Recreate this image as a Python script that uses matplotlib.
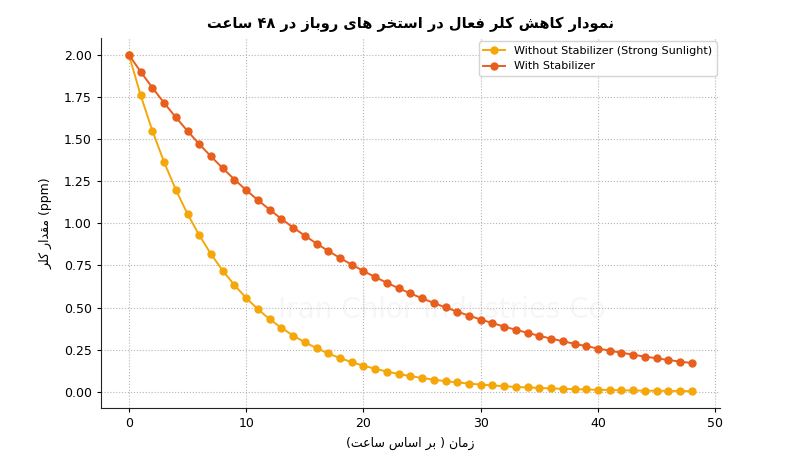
import re
import matplotlib
matplotlib.use('Agg')
import matplotlib.pyplot as plt

# ----- data -----
hours = list(range(49))
without_stab = [2.000, 1.760, 1.549, 1.363, 1.199, 1.055, 0.929, 0.817, 0.719, 0.633,
                0.557, 0.490, 0.431, 0.380, 0.334, 0.294, 0.259, 0.228, 0.200, 0.176,
                0.155, 0.137, 0.120, 0.106, 0.093, 0.082, 0.072, 0.063, 0.056, 0.049,
                0.043, 0.038, 0.033, 0.029, 0.026, 0.023, 0.020, 0.018, 0.016, 0.014,
                0.012, 0.011, 0.009, 0.008, 0.007, 0.006, 0.006, 0.005, 0.004]
with_stab = [2.000, 1.900, 1.805, 1.715, 1.629, 1.548, 1.470, 1.397, 1.327, 1.260,
             1.197, 1.138, 1.081, 1.027, 0.975, 0.927, 0.880, 0.836, 0.794, 0.755,
             0.717, 0.681, 0.647, 0.615, 0.584, 0.555, 0.527, 0.501, 0.476, 0.452,
             0.429, 0.408, 0.387, 0.368, 0.350, 0.332, 0.316, 0.300, 0.285, 0.271,
             0.257, 0.244, 0.232, 0.220, 0.209, 0.199, 0.189, 0.179, 0.171]
series_labels = ['Without Stabilizer (Strong Sunlight)', 'With Stabilizer']
title_text = 'نمودار کاهش کلر فعال در استخر های روباز در ۴۸ ساعت'
xlabel_text = 'زمان ( بر اساس ساعت)'
ylabel_text = 'مقدار کلر'

# ----- minimal Persian shaping (matplotlib has no text shaping) -----
# letter: (isolated, final, initial, medial); two entries = joins only to the right
FORMS = {
    'ا': (0xFE8D, 0xFE8E), 'آ': (0xFE81, 0xFE82),
    'د': (0xFEA9, 0xFEAA), 'ذ': (0xFEAB, 0xFEAC),
    'ر': (0xFEAD, 0xFEAE), 'ز': (0xFEAF, 0xFEB0), 'و': (0xFEED, 0xFEEE),
    'ب': (0xFE8F, 0xFE90, 0xFE91, 0xFE92), 'ت': (0xFE95, 0xFE96, 0xFE97, 0xFE98),
    'خ': (0xFEA5, 0xFEA6, 0xFEA7, 0xFEA8), 'س': (0xFEB1, 0xFEB2, 0xFEB3, 0xFEB4),
    'ش': (0xFEB5, 0xFEB6, 0xFEB7, 0xFEB8), 'ع': (0xFEC9, 0xFECA, 0xFECB, 0xFECC),
    'ف': (0xFED1, 0xFED2, 0xFED3, 0xFED4), 'ق': (0xFED5, 0xFED6, 0xFED7, 0xFED8),
    'ک': (0xFB8E, 0xFB8F, 0xFB90, 0xFB91), 'ل': (0xFEDD, 0xFEDE, 0xFEDF, 0xFEE0),
    'م': (0xFEE1, 0xFEE2, 0xFEE3, 0xFEE4), 'ن': (0xFEE5, 0xFEE6, 0xFEE7, 0xFEE8),
    'ه': (0xFEE9, 0xFEEA, 0xFEEB, 0xFEEC), 'ی': (0xFBFC, 0xFBFD, 0xFBFE, 0xFBFF),
}


def shape(text):
    out = []
    for i, ch in enumerate(text):
        if ch not in FORMS:
            out.append(ch)
            continue
        prev = text[i - 1] if i > 0 else ''
        nxt = text[i + 1] if i + 1 < len(text) else ''
        join_prev = prev in FORMS and len(FORMS[prev]) == 4
        join_next = len(FORMS[ch]) == 4 and nxt in FORMS
        f = FORMS[ch]
        if join_prev and join_next:
            out.append(chr(f[3]))
        elif join_prev:
            out.append(chr(f[1]))
        elif join_next:
            out.append(chr(f[2]))
        else:
            out.append(chr(f[0]))
    return ''.join(out)


def rtl(text):
    shaped = shape(text)
    ltr = r'[A-Za-z0-9\u06F0-\u06F9.]+'
    runs = re.findall(ltr + r'|[^A-Za-z0-9\u06F0-\u06F9.]+', shaped)
    mirror = str.maketrans('()', ')(')
    res = []
    for r in reversed(runs):
        if re.fullmatch(ltr, r):
            res.append(r)
        else:
            res.append(r[::-1].translate(mirror))
    return ''.join(res)


plt.rcParams['font.family'] = ['DejaVu Sans']
plt.rcParams['font.size'] = 9

fig = plt.figure(figsize=(8, 4.7), dpi=100)
ax = fig.add_axes([0.126, 0.132, 0.774, 0.787])

ax.plot(hours, without_stab, marker='o', color='#F5A70A', lw=1.4, markersize=5,
        label=series_labels[0], zorder=3)
ax.plot(hours, with_stab, marker='o', color='#E85E1C', lw=1.4, markersize=5,
        label=series_labels[1], zorder=3)

# faint watermark
ax.text(0.55, 0.265, 'Iran Chlor Industries Co', transform=ax.transAxes,
        fontsize=20, color='#9aa5ad', alpha=0.09, ha='center', va='center', zorder=1)

ax.set_title(rtl(title_text), fontsize=10.5, fontweight='bold', pad=7)
ax.set_xlabel(rtl(xlabel_text), fontsize=9, labelpad=5)
ax.set_ylabel(rtl(ylabel_text) + ' (ppm)', fontsize=9, labelpad=8)
ax.tick_params(length=3)

ax.grid(True, linestyle=':', color='#b5b5b5', linewidth=0.8)
ax.spines['top'].set_visible(False)
ax.spines['right'].set_visible(False)
ax.spines['left'].set_color('#222222')
ax.spines['bottom'].set_color('#222222')
ax.legend(loc='upper right', fontsize=8, framealpha=0.9, edgecolor='#d0d0d0',
          borderaxespad=0.3)

fig.savefig('out.png', dpi=100)
